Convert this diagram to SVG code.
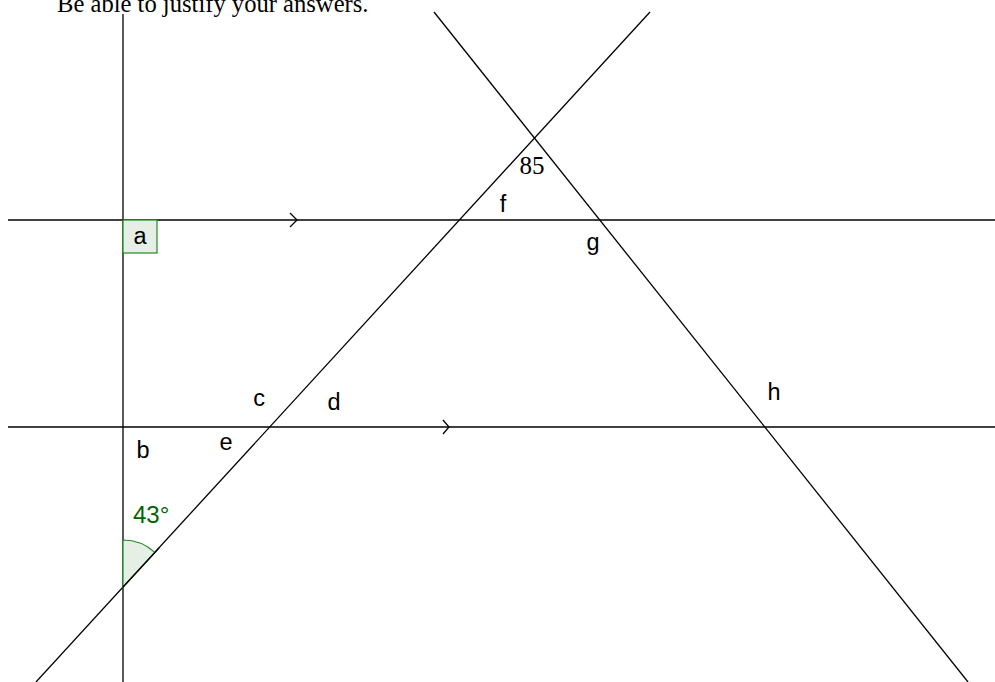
<svg xmlns="http://www.w3.org/2000/svg" width="995" height="682" viewBox="0 0 995 682">
<style>
.ln{stroke:#000;stroke-width:1.3;fill:none}
.lbl{font-family:"Liberation Sans",Arial,sans-serif;font-size:23.5px;fill:#000;text-anchor:middle}
.ser{font-family:"Liberation Serif","Times New Roman",serif;fill:#000}
.grn{fill:#e5efe5;stroke:#228b22;stroke-width:1.2}
</style>
<rect width="995" height="682" fill="#fff"/>
<text class="ser" x="57" y="12" font-size="24.6">Be able to justify your answers.</text>
<g id="connectors">
<line class="ln" x1="123" y1="14" x2="123" y2="682"/>
<line class="ln" x1="8" y1="220" x2="995" y2="220"/>
<line class="ln" x1="8" y1="427" x2="995" y2="427"/>
<line class="ln" x1="650" y1="12" x2="36" y2="682"/>
<line class="ln" x1="434" y1="12" x2="968" y2="682"/>
<polyline class="ln" points="290,213 297,220 290,227"/>
<polyline class="ln" points="443,420 449,427 443,434"/>
</g>
<g id="angle-a">
<rect class="grn" x="123" y="220" width="34" height="33"/>
<text class="lbl" x="140" y="244">a</text>
</g>
<g id="angle-43">
<path class="grn" d="M123,587 L123,540 A47,47 0 0 1 154.8,552.4 Z"/>
<line class="ln" x1="123" y1="587" x2="159" y2="548"/>
<text x="133" y="523" font-family="'Liberation Sans',Arial,sans-serif" font-size="24" fill="#006400">43°</text>
</g>
<g id="label-85"><text class="ser" x="532" y="174" font-size="25" text-anchor="middle">85</text></g>
<g id="label-f"><text class="lbl" x="503" y="212">f</text></g>
<g id="label-g"><text class="lbl" x="593" y="250">g</text></g>
<g id="label-c"><text class="lbl" x="259" y="406">c</text></g>
<g id="label-d"><text class="lbl" x="334" y="410">d</text></g>
<g id="label-e"><text class="lbl" x="226" y="450">e</text></g>
<g id="label-b"><text class="lbl" x="143" y="458">b</text></g>
<g id="label-h"><text class="lbl" x="774" y="400">h</text></g>
</svg>
